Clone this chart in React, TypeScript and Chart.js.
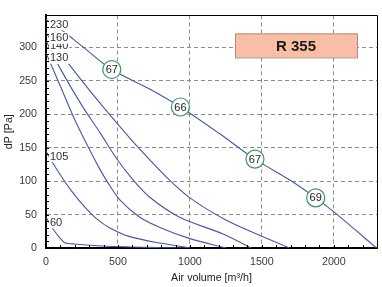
import { useEffect, useRef } from "react";
import { Chart, registerables } from "chart.js";

Chart.register(...registerables);

// Fan curves of R 355 at each control step: air volume [m³/h] against pressure [Pa]
const q230 = [0, 115, 250, 457, 720, 934, 1200, 1452, 1700, 1874, 2000, 2150, 2296];
const p230 = [342, 325, 302, 267, 238, 211, 172, 133, 101, 75, 54, 27, 0];

const q160 = [0, 100, 250, 374, 500, 629, 837, 1000, 1250, 1496, 1692];
const p160 = [322, 292, 250, 217, 185, 153, 106, 75, 42, 18, 0];

const q140 = [0, 100, 250, 374, 490, 605, 721, 929, 1230, 1426];
const p140 = [310, 268, 213, 173, 134, 102, 76, 46, 21, 0];

const q130 = [0, 100, 200, 296, 374, 432, 513, 652, 800, 1000, 1253];
const p130 = [292, 242, 192, 150, 118, 97, 72, 46, 30, 14, 0];

const q105 = [0, 62, 178, 270, 350, 444, 583, 800, 1000];
const p105 = [145, 122, 85, 61, 44, 30, 17, 7, 0];

const q60 = [0, 50, 100, 130, 200, 400, 700, 950];
const p60 = [46, 28, 14, 8, 6, 3, 1, 0];

const curveQ = [q60, q105, q130, q140, q160, q230];
const curveP = [p60, p105, p130, p140, p160, p230];
const curveLabels = ["60", "105", "130", "140", "160", "230"];

// Sound level markers sitting on the top curve
const markerQ = [457, 934, 1452, 1874];
const markerP = [267, 211, 133, 75];
const markerText = ["67", "66", "67", "69"];

const xTicks = [0, 500, 1000, 1500, 2000];
const yTicks = [0, 50, 100, 150, 200, 250, 300];

const modelName = "R 355";
const xTitle = "Air volume [m³/h]";
const yTitle = "dP [Pa]";

const X_MAX = 2300;
const Y_MAX = 348;
const X_MINOR = 100;
const Y_MINOR = 10;

const FONT = "'Liberation Sans', Arial, sans-serif";
const LINE = "#4757a6";

const overlay = {
  id: "overlay",
  afterDatasetsDraw(chart: any) {
    const { ctx, chartArea: a, scales } = chart;
    const x = scales.x;
    const y = scales.y;
    ctx.save();

    // minor ticks inside the axes
    ctx.strokeStyle = "#000";
    ctx.lineWidth = 1;
    ctx.beginPath();
    for (let v = X_MINOR; v < X_MAX; v += X_MINOR) {
      const px = Math.round(x.getPixelForValue(v)) + 0.5;
      ctx.moveTo(px, a.bottom);
      ctx.lineTo(px, a.bottom - 3);
    }
    for (let v = Y_MINOR; v < Y_MAX; v += Y_MINOR) {
      const py = Math.round(y.getPixelForValue(v)) + 0.5;
      ctx.moveTo(a.left, py);
      ctx.lineTo(a.left + 3, py);
    }
    ctx.stroke();

    // thin frame on top and right
    ctx.beginPath();
    ctx.moveTo(a.left, Math.round(a.top) + 0.5);
    ctx.lineTo(Math.round(a.right) + 0.5, Math.round(a.top) + 0.5);
    ctx.lineTo(Math.round(a.right) + 0.5, a.bottom);
    ctx.stroke();

    // step labels at the start of each curve
    ctx.font = `11px ${FONT}`;
    ctx.textBaseline = "middle";
    ctx.textAlign = "left";
    curveLabels.forEach((label, i) => {
      const lx = x.getPixelForValue(curveQ[i][0]) + 4;
      const ly = y.getPixelForValue(curveP[i][0]) + 5;
      const w = ctx.measureText(label).width;
      ctx.fillStyle = "#fff";
      ctx.fillRect(lx - 1, ly - 6, w + 2, 12);
      ctx.fillStyle = "#333";
      ctx.fillText(label, lx, ly + 0.5);
    });

    // circled sound levels
    ctx.textAlign = "center";
    markerText.forEach((t, i) => {
      const cx = x.getPixelForValue(markerQ[i]);
      const cy = y.getPixelForValue(markerP[i]);
      ctx.beginPath();
      ctx.arc(cx, cy, 9, 0, Math.PI * 2);
      ctx.fillStyle = "#fff";
      ctx.fill();
      ctx.strokeStyle = "#3b9766";
      ctx.lineWidth = 1.2;
      ctx.stroke();
      ctx.fillStyle = "#222";
      ctx.font = `11px ${FONT}`;
      ctx.fillText(t, cx, cy + 0.5);
    });

    // model name box
    const bx = a.left + 189;
    const by = a.top + 18;
    const bw = 122;
    const bh = 24;
    ctx.fillStyle = "#f9bfa6";
    ctx.fillRect(bx, by, bw, bh);
    ctx.strokeStyle = "#b98a74";
    ctx.lineWidth = 1;
    ctx.strokeRect(bx + 0.5, by + 0.5, bw, bh);
    ctx.fillStyle = "#1c1c1c";
    ctx.font = `bold 15px ${FONT}`;
    ctx.fillText(modelName, bx + bw / 2, by + bh / 2 + 1);

    ctx.restore();
  },
};

export default function App() {
  const ref = useRef<HTMLCanvasElement | null>(null);

  useEffect(() => {
    if (!ref.current) return;
    const tickFont = { family: FONT, size: 10.7 };
    const chart = new Chart(ref.current, {
      type: "line",
      data: {
        datasets: curveQ.map((qs, i) => ({
          label: curveLabels[i],
          data: qs.map((q, j) => ({ x: q, y: curveP[i][j] })),
          borderColor: LINE,
          borderWidth: 1.1,
          pointRadius: 0,
          fill: false,
          tension: 0.3,
        })),
      },
      options: {
        animation: false,
        responsive: false,
        events: [],
        layout: { padding: { left: 0, top: 10, right: 5, bottom: 0 } },
        plugins: { legend: { display: false }, tooltip: { enabled: false } },
        scales: {
          x: {
            type: "linear",
            min: 0,
            max: X_MAX,
            afterFit: (s: any) => {
              s.height = 39;
            },
            afterBuildTicks: (s: any) => {
              s.ticks = xTicks.map((v) => ({ value: v }));
            },
            ticks: {
              padding: 8,
              color: "#3a3a3a",
              font: tickFont,
              maxRotation: 0,
              autoSkip: false,
              callback: (v: any) => String(v),
            },
            grid: { color: "#8c8c8c", lineWidth: 1, drawTicks: false },
            border: { display: true, color: "#000", width: 2, dash: [4, 3] },
            title: {
              display: true,
              text: xTitle,
              color: "#222",
              font: tickFont,
              padding: { top: 0, bottom: 3 },
            },
          },
          y: {
            type: "linear",
            min: 0,
            max: Y_MAX,
            afterFit: (s: any) => {
              s.width = 46;
            },
            afterBuildTicks: (s: any) => {
              s.ticks = yTicks.map((v) => ({ value: v }));
            },
            ticks: {
              padding: 9,
              color: "#3a3a3a",
              font: tickFont,
              autoSkip: false,
              callback: (v: any) => String(v),
            },
            grid: { color: "#8c8c8c", lineWidth: 1, drawTicks: false },
            border: { display: true, color: "#000", width: 2, dash: [4, 3] },
            title: {
              display: true,
              text: yTitle,
              color: "#222",
              font: tickFont,
              padding: { top: 3, bottom: 0 },
            },
          },
        },
      },
      plugins: [overlay],
    });
    return () => chart.destroy();
  }, []);

  return (
    <div style={{ position: "fixed", left: 0, top: 0, width: 382, height: 287, background: "#fff" }}>
      <canvas ref={ref} width={382} height={287} style={{ display: "block" }} />
    </div>
  );
}
